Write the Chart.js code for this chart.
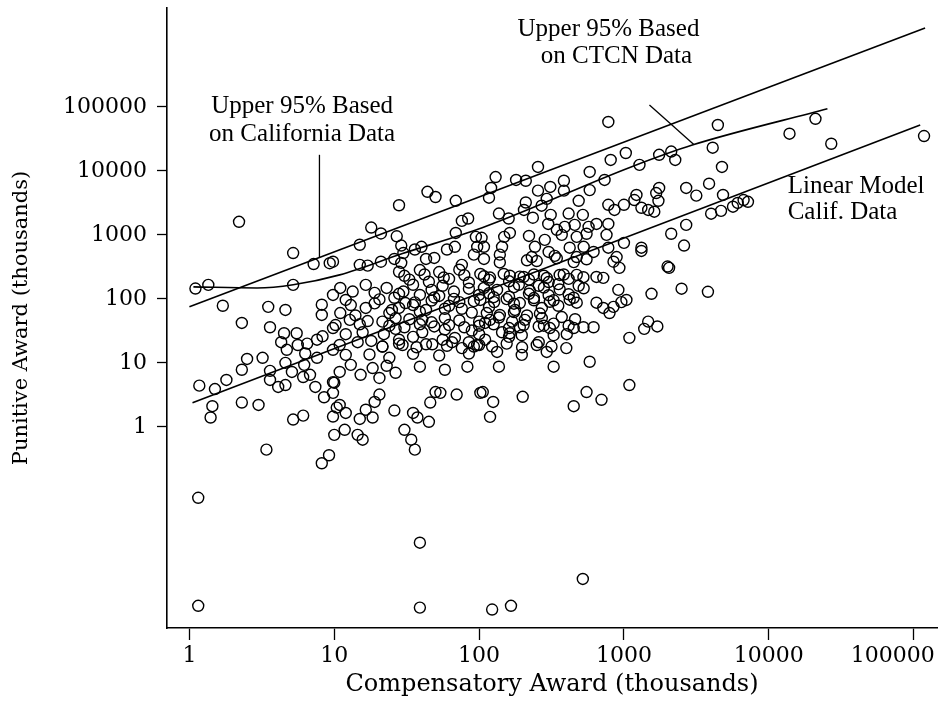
<!DOCTYPE html>
<html><head><meta charset="utf-8">
<script src="https://cdn.jsdelivr.net/npm/chart.js@4.4.1/dist/chart.umd.min.js"></script>
<style>html,body{margin:0;padding:0;background:#fff;}canvas{display:block;}</style>
</head><body>
<canvas id="c" width="944" height="701"></canvas>
<script>
// Compensatory award (thousands) for each case
const compensatory = [
 1.1,1.35,2.2,5.2,7.2,9.3,5.2,9.8,1.7,3.5,
 4.6,8.2,8.2,2.3,3.6,4.5,5.5,4.3,5.6,4.7,
 6.5,7.6,8.3,9.8,6.3,7.6,9.8,2.5,3.2,2.3,
 3.6,4.6,5.1,6.2,6.1,6.8,3.6,4.1,4.6,1.17,
 1.5,1.8,7.4,9.8,8.5,9.8,1.44,1.4,2.3,3.0,
 10.4,5.2,6.1,9.8,10,3.4,8.2,9.2,1.15,1.15,
 39,39,123,166,520,
 28,44,50,69,18,21,27,15,29,30,
 36,40,29,26,21,15,17,9.8,43,49,
 60,68,69,76,84,76,95,97,92,11,
 13.4,16.5,19,23,30,35,39,47,56,67,
 85,100,
 12,16.5,20.5,25,31,39,47,58,73,89,
 10.2,12.8,15.7,21.5,26.5,33,40.5,47,58,73,89,
 10.9,12,14.5,17.5,21.5,24,28,35,43,53,65,85,92,
 10.9,13,15.2,18.4,20.5,23,26.5,39,58,83,
 10,50,54,70,102,20.5,19,46,10.9,12,
 16.5,18.4,15,26,35,37.5,45,30.5,34,36,
 14.5,15.7,11.8,
 780,1030,810,255,580,130,180,210,385,735,
 121,255,310,385,580,117,293,487,210,270,
 780,860,1000,137,160,204,235,312,415,520,
 300,344,390,457,570,646,780,221,284,372,
 472,552,758,1000,104,149,163,144,108,243,
 302,422,527,617,780,139,231,333,472,890,
 108,139,214,250,344,450,552,847,930,472,
 646,720,102,119,163,191,239,293,360,108,
 133,174,224,280,360,527,915,102,127,155,
 191,239,308,422,472,646,720,847,960,795,
 113,139,174,214,263,372,100,119,144,163,
 191,197,280,308,327,403,450,617,100,100,
 1090,133,197,293,137,327,580,106,125,119,
 200,450,552,700,1090,
 4450,21000,13900,27000,118000,4100,4750,1280,1750,2120,
 2260,3870,4830,2690,3160,1750,1670,1220,6700,1180,
 1730,1320,1470,1620,4000,4680,5660,6100,7180,2690,
 2120,1320,1320,2600,2050,2000,1550,2500,3800,1040,
 1470,1380,1700,
 28,39,53,73,33,45,62,85,117,161,
 221,302,415,188,258,352,487,28,53,117,
 161,221,302,415,28,35,43,62,76,117,
 177,271,352,26.5,40.5,58,110,137,169,207,
 271,460,28,35,56,68,85,110,161,258,
 30.5,42,57,79,108,148,203,280,384,525,
 26,36,49,67,92,126,174,239,327,450,
 24,30.5,39,49,62,79,100,126,161,203,258,327,415,525,
 21.5,29.6,37,47.5,60,76,97,123,155,198,250,316,400,
 11,13,14,17,19,22,24,12,15,18
];
// Punitive award (thousands) for each case
const punitive = [
 145,165,1600,520,350,360,165,115,78,75,
 67,81,56,42,36,29,29,21,19,16,
 20,23,26,35,14,12,16,11.5,12,7.8,
 7.5,10,7.2,9.3,6,6.5,5.4,4.2,4.5,4.4,
 3.9,5.4,4.2,5,2.9,3.4,2.1,1.4,2.4,2.2,
 2.0,1.3,1.5,1.45,0.75,0.44,0.27,0.36,0.078,0.0016,
 0.0155,0.0015,0.0014,0.0016,0.0042,
 2900,4700,3900,3400,1300,1050,950,700,680,520,
 590,650,365,420,380,340,330,380,420,435,
 590,650,1070,1650,1800,340,930,650,490,148,
 130,165,124,148,130,166,115,138,160,130,
 144,115,
 96,72,98,67,86,63,94,70,89,61,
 39,47,30,44,34,48,30,43,33,46,32,
 19,13.3,21,13.5,18,12,20,13.8,19.5,13,21,14,18,
 7.2,9.3,6.5,8.3,5.8,9,7,8.7,7.8,8.7,
 4.9,3.5,3.4,3.2,3.4,3.2,2.45,2.4,2.2,1.65,
 1.85,1.4,1.33,1.8,1.65,1.4,1.2,0.9,0.63,0.44,
 0.75,0.63,0.9,
 58000,19000,14800,11500,9600,8000,7200,7000,7000,7200,
 5400,4900,5600,4900,5000,3800,3650,3400,3200,2850,
 2950,2450,2950,2150,1800,2450,1850,2050,2150,2050,
 1480,1200,1330,1430,1330,1480,1480,960,835,1000,
 930,1040,1000,750,900,930,1070,650,650,650,
 540,630,650,540,630,490,450,470,450,450,
 420,370,400,390,430,375,415,380,305,237,
 220,213,245,215,230,222,240,212,236,148,
 138,152,134,150,140,146,138,96,89,99,
 86,95,90,97,87,87,72,75,89,60,
 60,56,62,55,59,52,44,47,30,29,
 36,27,38,35,27,28,35,36,28,19,
 24.6,14.8,13.3,14.8,8.7,8.7,10.4,3.5,2.45,1.43,
 2.95,2.1,3.5,2.65,4.5,
 52000,65000,38000,26500,35000,23000,11500,12400,17800,20000,
 14800,6300,4200,5400,4100,5400,4500,4200,3500,3500,
 3400,2650,2450,2300,2140,2370,2750,3150,3280,1430,
 1040,630,560,680,305,320,120,144,129,96,
 44,34,37,
 265,282,262,285,200,185,205,180,198,188,
 200,183,205,166,160,170,160,120,111,122,
 108,120,114,118,72,80,67,78,70,74,
 67,72,78,50,47,50,42,51,44,47,
 50,48,23,25.5,23,24.5,21,23,25.5,21,
 229,240,215,235,225,245,220,230,240,218,
 104,88,105,100,92,106,84,103,95,104,
 38,36,40,37,39,36,38,40,35,39,37,41,38,36,
 18,19,17.5,19.5,18.5,17,19,18,20,17.5,19,18,17,
 60,80,55,45,85,28,60,28,40,22
];
// Fitted / bound lines (thousands)
const califUpperX = [1, 120000];
const califUpperY = [75, 1700000];
const ctcnUpperX = [1.065, 2.93, 5.2, 10.9, 29.6, 105, 1120, 3000, 25400];
const ctcnUpperY = [154, 148, 166, 237, 510, 1290, 11500, 25500, 93000];
const linearModelX = [1.05, 111000];
const linearModelY = [2.37, 52000];
// Tick labels
const tickValues = [1, 10, 100, 1000, 10000, 100000];
const tickLabels = ['1', '10', '100', '1000', '10000', '100000'];

const zip = (xs, ys) => xs.map((x, i) => ({x: x, y: ys[i]}));
const labelFor = v => { const k = tickValues.indexOf(v); return k >= 0 ? tickLabels[k] : ''; };

const annot = {
  id: 'annot',
  afterDatasetsDraw(chart) {
    const {ctx} = chart; const xs = chart.scales.x, ys = chart.scales.y;
    const px = v => xs.getPixelForValue(v), py = v => ys.getPixelForValue(v);
    ctx.save();
    ctx.strokeStyle = '#000'; ctx.lineWidth = 1.3;
    const seg = (x1, y1, x2, y2) => { ctx.beginPath(); ctx.moveTo(px(x1), py(y1)); ctx.lineTo(px(x2), py(y2)); ctx.stroke(); };
    seg(7.9, 17800, 7.9, 450);
    seg(1500, 107000, 3050, 25500);
    ctx.fillStyle = '#000'; ctx.font = '25px "Liberation Serif"'; ctx.textBaseline = 'middle';
    ctx.textAlign = 'center';
    ctx.fillText('Upper 95% Based', px(6.0), py(100000));
    ctx.fillText('on California Data', px(6.0), py(36500));
    ctx.fillText('Upper 95% Based', px(782), py(1600000));
    ctx.fillText('on CTCN Data', px(888), py(603000));
    ctx.textAlign = 'left';
    ctx.fillText('Linear Model', px(13500), py(5620));
    ctx.fillText('Calif. Data', px(13500), py(2210));
    ctx.restore();
  }
};

const lineDs = (xs, ys, extra) => Object.assign({
  type: 'line', data: zip(xs, ys), borderColor: '#000', borderWidth: 1.6,
  pointRadius: 0, fill: false, tension: 0
}, extra || {});

new Chart(document.getElementById('c'), {
  type: 'scatter',
  data: {
    datasets: [
      { data: zip(compensatory, punitive), pointRadius: 5.5, pointHoverRadius: 5.5, borderWidth: 1.4,
        borderColor: '#000', backgroundColor: 'rgba(0,0,0,0)', pointStyle: 'circle' },
      lineDs(califUpperX, califUpperY),
      lineDs(ctcnUpperX, ctcnUpperY, {cubicInterpolationMode: 'monotone'}),
      lineDs(linearModelX, linearModelY)
    ]
  },
  options: {
    responsive: false, animation: false, devicePixelRatio: 1,
    layout: { padding: { top: 8, right: 7, left: 0, bottom: 0 } },
    plugins: { legend: { display: false }, tooltip: { enabled: false } },
    scales: {
      x: {
        type: 'logarithmic', position: 'bottom', min: 0.74, max: 145000,
        afterBuildTicks: s => { s.ticks = tickValues.map(v => ({value: v})); },
        afterFit: s => { s.height = 73; s.paddingLeft = 0; s.paddingRight = 0; },
        ticks: { autoSkip: false, maxRotation: 0, minRotation: 0, padding: 3, color: '#000',
          font: { family: 'DejaVu Serif', size: 22 },
          callback: (v, i, t) => i === t.length - 1 ? labelFor(v) + '\u2007\u2007\u2007' : labelFor(v) },
        grid: { drawOnChartArea: false, drawTicks: true, tickLength: 12, tickWidth: 1.3, tickColor: '#000' },
        border: { display: true, color: '#000', width: 1.6 },
        title: { display: true, text: 'Compensatory Award (thousands)', color: '#000',
          font: { family: 'DejaVu Serif', size: 24 }, padding: { top: 0, bottom: 2 } }
      },
      y: {
        type: 'logarithmic', position: 'left', min: 0.00072, max: 3500000,
        afterBuildTicks: s => { s.ticks = tickValues.map(v => ({value: v})); },
        afterFit: s => { s.width = 167; s.paddingTop = 0; s.paddingBottom = 0; },
        ticks: { autoSkip: false, padding: 10, color: '#000',
          font: { family: 'DejaVu Serif', size: 22 }, callback: v => labelFor(v) },
        grid: { drawOnChartArea: false, drawTicks: true, tickLength: 10, tickWidth: 1.3, tickColor: '#000' },
        border: { display: true, color: '#000', width: 1.6 },
        title: { display: true, text: 'Punitive Award (thousands)', color: '#000',
          font: { family: 'DejaVu Serif', size: 21 }, padding: { top: 9, bottom: 0 } }
      }
    }
  },
  plugins: [annot]
});
</script>
</body></html>
